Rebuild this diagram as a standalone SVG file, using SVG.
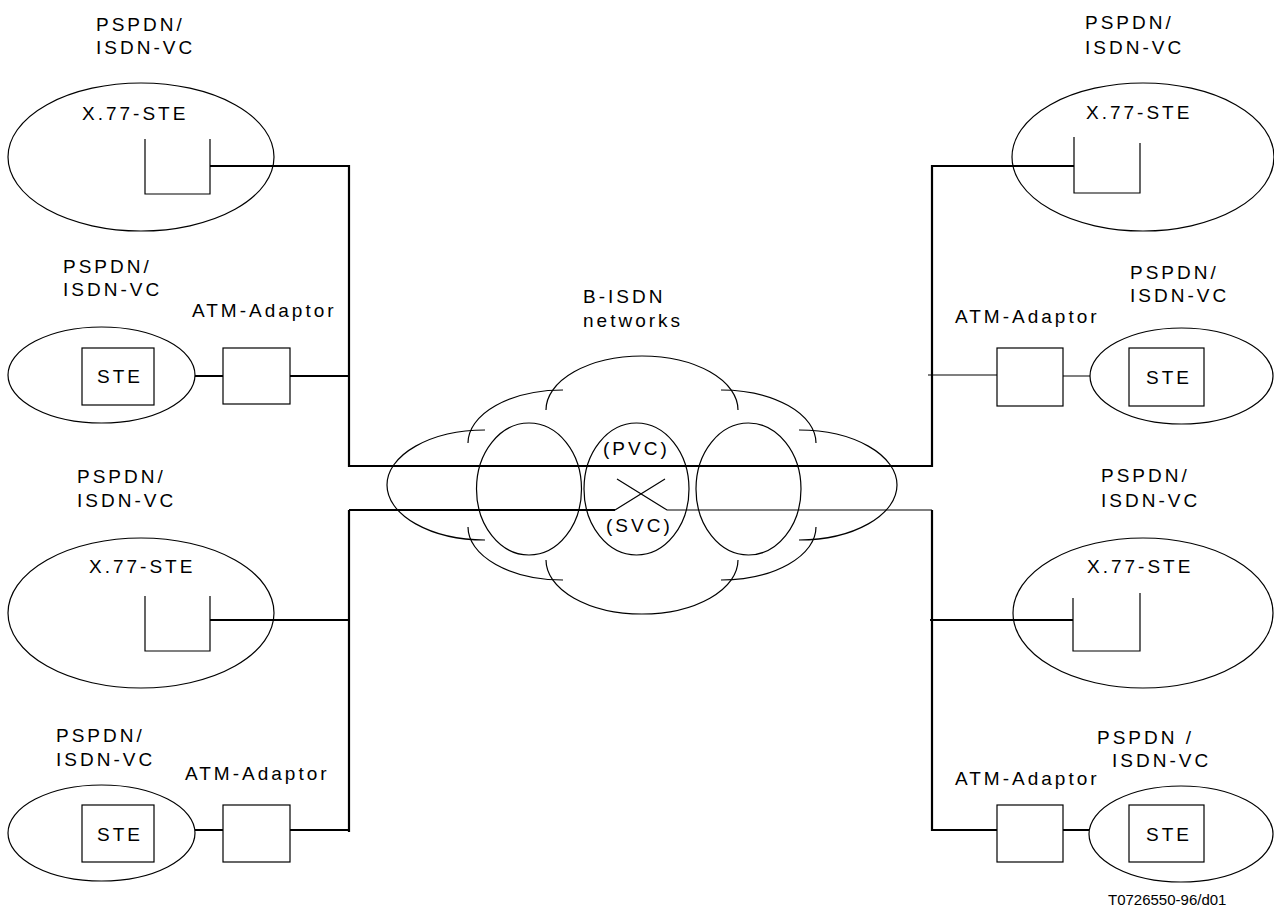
<svg xmlns="http://www.w3.org/2000/svg" width="1274" height="917" viewBox="0 0 1274 917">
<style>
.t{font-family:"Liberation Sans",Arial,sans-serif;font-size:19px;letter-spacing:3px;fill:#000}
.s{font-family:"Liberation Sans",Arial,sans-serif;font-size:15px;fill:#000}
.th{fill:none;stroke:#000;stroke-width:1.2}
.tk{fill:none;stroke:#000;stroke-width:2.2}
</style>
<rect width="1274" height="917" fill="#fff"/>
<g id="cloud" class="th">
<path d="M485,430 A98,55 0 0 0 387,485 A98,55 0 0 0 485,540"/>
<path d="M468,443 A95,53 0 0 1 563,390"/>
<path d="M546,410 A96,54 0 0 1 642,356 A96,54 0 0 1 738,410"/>
<path d="M721,390 A95,53 0 0 1 816,443"/>
<path d="M799,430 A98,55 0 0 1 897,485 A98,55 0 0 1 799,540"/>
<path d="M816,527 A95,53 0 0 1 721,580"/>
<path d="M738,560 A96,54 0 0 1 642,614 A96,54 0 0 1 546,560"/>
<path d="M563,580 A95,53 0 0 1 468,527"/>
<ellipse cx="529" cy="489" rx="52.5" ry="66"/>
<ellipse cx="636.5" cy="489" rx="52.5" ry="66"/>
<ellipse cx="748.5" cy="489" rx="52.5" ry="66"/>
<text class="t" x="583" y="303" stroke="none">B-ISDN</text>
<text class="t" x="583" y="327" stroke="none">networks</text>
<text class="t" x="603" y="455" stroke="none">(PVC)</text>
<text class="t" x="606" y="532" stroke="none">(SVC)</text>
</g>
<g id="x77-top-left">
<text class="t" x="96" y="31">PSPDN/</text>
<text class="t" x="96" y="54">ISDN-VC</text>
<ellipse class="th" cx="141" cy="157" rx="133" ry="74"/>
<text class="t" x="82" y="120">X.77-STE</text>
<path class="th" d="M145,139 V194 H210 V139"/>
</g>
<g id="x77-top-right">
<text class="t" x="1085" y="29">PSPDN/</text>
<text class="t" x="1085" y="54">ISDN-VC</text>
<ellipse class="th" cx="1143" cy="157" rx="131" ry="74"/>
<text class="t" x="1086" y="119">X.77-STE</text>
<path class="th" d="M1074,137 V193 H1140 V143"/>
</g>
<g id="ste-left-2">
<text class="t" x="63" y="273">PSPDN/</text>
<text class="t" x="63" y="296">ISDN-VC</text>
<ellipse class="th" cx="101.5" cy="375" rx="93.5" ry="48"/>
<rect class="th" x="82" y="348" width="72" height="57"/>
<text class="t" x="97" y="383">STE</text>
</g>
<g id="adaptor-left-2">
<text class="t" x="192" y="317">ATM-Adaptor</text>
<rect class="th" x="223" y="348" width="67" height="56"/>
</g>
<g id="ste-right-2">
<text class="t" x="1130" y="279">PSPDN/</text>
<text class="t" x="1130" y="302">ISDN-VC</text>
<ellipse class="th" cx="1181.5" cy="376" rx="91.5" ry="48"/>
<rect class="th" x="1129" y="348" width="75" height="58"/>
<text class="t" x="1146" y="384">STE</text>
</g>
<g id="adaptor-right-2">
<text class="t" x="955" y="323">ATM-Adaptor</text>
<rect class="th" x="997" y="348" width="66" height="58"/>
</g>
<g id="x77-left-3">
<text class="t" x="77" y="483">PSPDN/</text>
<text class="t" x="77" y="507">ISDN-VC</text>
<ellipse class="th" cx="141" cy="613" rx="133" ry="75"/>
<text class="t" x="89" y="573">X.77-STE</text>
<path class="th" d="M145,596 V651 H210 V596"/>
</g>
<g id="x77-right-3">
<text class="t" x="1101" y="482">PSPDN/</text>
<text class="t" x="1101" y="507">ISDN-VC</text>
<ellipse class="th" cx="1143" cy="613" rx="130" ry="75"/>
<text class="t" x="1087" y="573">X.77-STE</text>
<path class="th" d="M1073,598 V651 H1140 V593"/>
</g>
<g id="ste-left-4">
<text class="t" x="56" y="742">PSPDN/</text>
<text class="t" x="56" y="766">ISDN-VC</text>
<ellipse class="th" cx="101.5" cy="833" rx="93.5" ry="48"/>
<rect class="th" x="82" y="805" width="72" height="57"/>
<text class="t" x="97" y="841">STE</text>
</g>
<g id="adaptor-left-4">
<text class="t" x="185" y="780">ATM-Adaptor</text>
<rect class="th" x="223" y="805" width="67" height="57"/>
</g>
<g id="ste-right-4">
<text class="t" x="1097" y="744">PSPDN /</text>
<text class="t" x="1112" y="767">ISDN-VC</text>
<ellipse class="th" cx="1181" cy="834" rx="92" ry="48"/>
<rect class="th" x="1129" y="805" width="75" height="57"/>
<text class="t" x="1146" y="841">STE</text>
</g>
<g id="adaptor-right-4">
<text class="t" x="955" y="785">ATM-Adaptor</text>
<rect class="th" x="997" y="805" width="66" height="57"/>
</g>
<g id="connectors">
<path class="tk" d="M210,166 H349 V466 H932 V166 H1074"/>
<path class="tk" d="M195,376 H223 M290,376 H349"/>
<path class="th" d="M928,375 H997 M1063,376 H1090"/>
<path class="tk" d="M210,620 H349 M349,510 V832 M349,510 H615"/>
<path class="th" d="M615,510 L665,479 M617,479 L667,510 H932"/>
<path class="tk" d="M932,510 V831 M930,620 H1073 M932,830 H997 M1063,830 H1089"/>
<path class="tk" d="M195,830 H223 M290,830 H349"/>
</g>
<text class="s" x="1108" y="905">T0726550-96/d01</text>
</svg>
